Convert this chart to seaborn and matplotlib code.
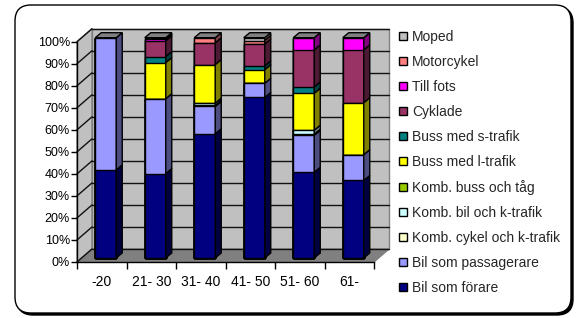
import numpy as np
import matplotlib
matplotlib.use("Agg")
import matplotlib.pyplot as plt
import matplotlib.transforms as mtransforms
from matplotlib.patches import Polygon, FancyBboxPatch, Patch
import seaborn as sns

# data: share of trips (%) per age group, bottom series first
age_groups = ["-20", "21- 30", "31- 40", "41- 50", "51- 60", "61-"]
bil_forare = [40.0, 38.3, 56.4, 72.9, 38.9, 35.2]
bil_passagerare = [60.0, 34.0, 12.4, 6.4, 16.8, 11.7]
komb_cykel_k = [0.0, 0.0, 0.5, 0.0, 0.5, 0.0]
komb_bil_k = [0.0, 0.0, 1.0, 0.0, 1.8, 0.0]
komb_buss_tag = [0.0, 0.0, 0.0, 0.0, 0.0, 0.0]
buss_l = [0.0, 16.4, 17.5, 6.2, 16.8, 23.6]
buss_s = [0.0, 2.7, 0.0, 1.7, 2.9, 0.0]
cyklade = [0.0, 7.2, 9.9, 10.0, 16.8, 24.0]
till_fots = [0.0, 0.7, 0.0, 0.0, 5.5, 5.5]
motorcykel = [0.0, 0.0, 2.3, 1.5, 0.0, 0.0]
moped = [0.0, 0.7, 0.0, 1.3, 0.0, 0.0]

series_names = ["Bil som förare", "Bil som passagerare", "Komb. cykel och k-trafik",
                "Komb. bil och k-trafik", "Komb. buss och tåg", "Buss med l-trafik",
                "Buss med s-trafik", "Cyklade", "Till fots", "Motorcykel", "Moped"]
series_vals = [bil_forare, bil_passagerare, komb_cykel_k, komb_bil_k, komb_buss_tag,
               buss_l, buss_s, cyklade, till_fots, motorcykel, moped]
colors = ["#000080", "#9999FF", "#FFFFCC", "#CCFFFF", "#99CC00", "#FFFF00",
          "#008080", "#993366", "#FF00FF", "#FF8080", "#C0C0C0"]

sns.set_theme(style="white")
plt.rcParams["font.family"] = ["Liberation Sans", "DejaVu Sans"]

W, H = 579, 318
fig = plt.figure(figsize=(W / 100, H / 100), dpi=100)
fig.patch.set_facecolor("white")

# rounded frame with shadow
shadow = FancyBboxPatch((0.17, 0.03), 5.56, 3.08, boxstyle="round,pad=0,rounding_size=0.16",
                        transform=fig.dpi_scale_trans, facecolor="black", edgecolor="black",
                        lw=1, zorder=-2)
frame = FancyBboxPatch((0.15, 0.05), 5.56, 3.08, boxstyle="round,pad=0,rounding_size=0.16",
                       transform=fig.dpi_scale_trans, facecolor="white", edgecolor="black",
                       lw=1, zorder=-1)
fig.add_artist(shadow)
fig.add_artist(frame)

ax_l, ax_b, ax_w, ax_h = 77, 56, 297, 220.3
ax = fig.add_axes([ax_l / W, ax_b / H, ax_w / W, ax_h / H])
ax.patch.set_visible(False)

n = len(age_groups)
bar_w = 21 / (ax_w / n)
cum = np.cumsum(np.array(series_vals), axis=0)

# stacked bars: draw cumulative totals from top series down
for i in range(len(series_vals) - 1, -1, -1):
    sns.barplot(x=age_groups, y=cum[i], color=colors[i], width=bar_w, saturation=1,
                edgecolor="black", linewidth=1, errorbar=None, ax=ax, zorder=3)

bars = list(ax.patches)
bar_trans = ax.transData + mtransforms.ScaledTranslation(0.04, 0.04, fig.dpi_scale_trans)
for p in bars:
    p.set_transform(bar_trans)
    p.set_clip_on(False)

ax.set_xlim(-0.5, n - 0.5)
ax.set_ylim(0, 100)

px_x = ax_w / n
px_y = ax_h / 100
wdx, wdy = 15 / px_x, 13 / px_y   # depth of the walls
bdx, bdy = 6 / px_x, 5 / px_y     # depth of the bars


def darker(c, f=0.5):
    r, g, b = matplotlib.colors.to_rgb(c)
    return (r * f, g * f, b * f)


# walls and floor
x0, x1 = -0.5, n - 0.5
ax.add_patch(Polygon([(x0 + wdx, wdy), (x1 + wdx, wdy), (x1 + wdx, 100 + wdy), (x0 + wdx, 100 + wdy)],
                     closed=True, facecolor="#C0C0C0", edgecolor="#808080", lw=1, zorder=0, clip_on=False))
ax.add_patch(Polygon([(x0, 0), (x0, 100), (x0 + wdx, 100 + wdy), (x0 + wdx, wdy)],
                     closed=True, facecolor="#C0C0C0", edgecolor="#808080", lw=1, zorder=0, clip_on=False))
ax.add_patch(Polygon([(x0, 0), (x1, 0), (x1 + wdx, wdy), (x0 + wdx, wdy)],
                     closed=True, facecolor="#808080", edgecolor="#808080", lw=1, zorder=0.5, clip_on=False))
for v in range(0, 101, 10):
    ax.plot([x0 + wdx, x1 + wdx], [v + wdy, v + wdy], color="#111111", lw=1, zorder=0.6, clip_on=False)
    ax.plot([x0, x0 + wdx], [v, v + wdy], color="#111111", lw=1, zorder=0.6, clip_on=False)

# side and top faces of the bars
for j in range(n):
    xr = j + bar_w / 2
    bottom = 0.0
    for i, vals in enumerate(series_vals):
        top = bottom + vals[j]
        if vals[j] > 0:
            ax.add_patch(Polygon([(xr, bottom), (xr + bdx, bottom + bdy), (xr + bdx, top + bdy), (xr, top)],
                                 closed=True, facecolor=darker(colors[i]), edgecolor="black", lw=1,
                                 transform=bar_trans, zorder=3, clip_on=False))
        bottom = top
    xl = j - bar_w / 2
    ax.add_patch(Polygon([(xl, bottom), (xr, bottom), (xr + bdx, bottom + bdy), (xl + bdx, bottom + bdy)],
                         closed=True, facecolor="#808080", edgecolor="black", lw=1,
                         transform=bar_trans, zorder=3, clip_on=False))

# axes styling
for s in ["top", "right"]:
    ax.spines[s].set_visible(False)
for s in ["left", "bottom"]:
    ax.spines[s].set_color("black")
    ax.spines[s].set_linewidth(1)
    ax.spines[s].set_zorder(1)

ax.set_yticks(range(0, 101, 10), labels=[f"{v}%" for v in range(0, 101, 10)])
ax.set_xticks(np.arange(-0.5, n, 1), labels=[""] * (n + 1))
ax.set_xticks(range(n), labels=age_groups, minor=True)
ax.tick_params(axis="y", which="major", left=True, length=4, width=1, color="black",
               labelsize=9, pad=1, labelcolor="black")
ax.tick_params(axis="x", which="major", bottom=True, length=5, width=1, color="black")
ax.tick_params(axis="x", which="minor", bottom=True, length=0, labelsize=10, pad=9, labelcolor="black")
ax.set_xlabel("")
ax.set_ylabel("")
ax.grid(False)

# legend, top entry first
handles = [Patch(facecolor=colors[i], edgecolor="black", lw=1, label=series_names[i])
           for i in range(len(series_names) - 1, -1, -1)]
fig.legend(handles=handles, loc="upper left", bbox_to_anchor=(399 / W, 1 - 30 / H),
           frameon=False, fontsize=10, handlelength=0.55, handleheight=0.55,
           handletextpad=0.4, labelspacing=0.79, borderpad=0, borderaxespad=0)

fig.savefig("out.png", dpi=100)
